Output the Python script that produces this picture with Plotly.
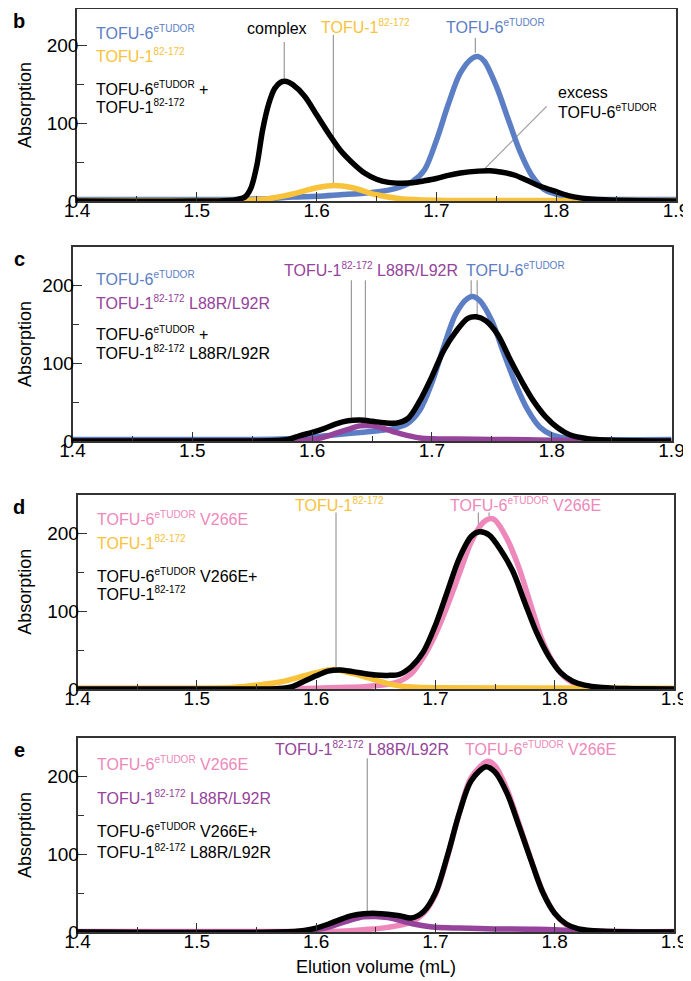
import plotly.graph_objects as go

W, H = 691, 981          # browser window
OFF = 8                  # page body margin of the written html
FW, FH = W - OFF, H - OFF  # figure size so that it ends at the window edge
FONT = "Liberation Sans, Arial, Helvetica, sans-serif"

BLUE = "#5B7EC5"
YELLOW = "#F8C23A"
PURPLE = "#95439B"
PINK = "#EE88BA"
BLACK = "#000000"
GRAY = "#9a9a9a"
AXC = "#333333"

# ---------------- data (elution volume in mL, absorption) ----------------
# panel b
B_BLUE_X = [1.40, 1.50, 1.53, 1.56, 1.58, 1.60, 1.62, 1.64, 1.66, 1.67, 1.68, 1.69, 1.70, 1.71, 1.72,
            1.73, 1.735, 1.74, 1.75, 1.76, 1.77, 1.78, 1.79, 1.80, 1.81, 1.82, 1.84, 1.90]
B_BLUE_Y = [2, 2, 2, 3, 5, 6, 8, 10, 14, 18, 25, 40, 78, 125, 165,
            184, 186, 180, 148, 105, 63, 32, 15, 9, 5, 3, 2, 2]
B_YEL_X = [1.40, 1.50, 1.54, 1.56, 1.58, 1.60, 1.615, 1.63, 1.65, 1.67, 1.70, 1.80, 1.90]
B_YEL_Y = [0.5, 0.5, 1, 3, 9, 17, 20, 17, 8, 3, 1, 0.5, 0.5]
B_BLK_X = [1.40, 1.50, 1.53, 1.54, 1.545, 1.55, 1.555, 1.56, 1.565, 1.57, 1.575, 1.58, 1.59, 1.60,
           1.61, 1.62, 1.63, 1.64, 1.65, 1.66, 1.67, 1.68, 1.69, 1.70, 1.71, 1.72, 1.735, 1.745,
           1.755, 1.765, 1.775, 1.785, 1.80, 1.81, 1.82, 1.84, 1.86, 1.90]
B_BLK_Y = [0, 0, 1, 5, 16, 45, 92, 125, 145, 153, 154, 150, 135, 111,
           87, 65, 49, 36, 28, 24, 23, 23.5, 26, 29, 33, 36, 38.5, 39,
           37, 33.5, 27, 20, 12, 7, 4, 1.5, 0.5, 0]

# panel c
C_BLUE_X = [1.40, 1.55, 1.58, 1.60, 1.62, 1.64, 1.66, 1.67, 1.68, 1.69, 1.70, 1.71, 1.72, 1.73,
            1.735, 1.74, 1.75, 1.76, 1.77, 1.78, 1.79, 1.80, 1.81, 1.83, 1.90]
C_BLUE_Y = [2, 2, 3, 5, 8, 11, 14, 17, 23, 40, 75, 122, 164, 184,
            186, 181, 155, 113, 73, 40, 18, 8, 4, 2, 2]
C_PUR_X = [1.40, 1.55, 1.58, 1.60, 1.61, 1.62, 1.63, 1.64, 1.65, 1.66, 1.67, 1.68, 1.69, 1.70,
           1.72, 1.75, 1.78, 1.80, 1.82, 1.90]
C_PUR_Y = [0, 0, 0.5, 2, 5, 10, 15, 19.5, 19.5, 16, 11, 7, 4, 3,
           2.5, 2, 1.5, 1, 0.5, 0]
C_BLK_X = [1.40, 1.55, 1.57, 1.58, 1.59, 1.60, 1.61, 1.62, 1.63, 1.64, 1.65, 1.66, 1.67, 1.68,
           1.69, 1.70, 1.71, 1.72, 1.73, 1.737, 1.745, 1.755, 1.765, 1.775, 1.785, 1.795, 1.805,
           1.815, 1.83, 1.85, 1.90]
C_BLK_Y = [0, 0, 0.5, 2, 7, 11, 16, 22, 26, 27, 25.5, 23.5, 23, 29,
           52, 83, 117, 141, 158, 160, 155, 137, 106, 77, 51, 31, 17,
           8, 3, 1, 0]

# panel d
D_PINK_X = [1.40, 1.58, 1.60, 1.62, 1.64, 1.66, 1.67, 1.68, 1.69, 1.70, 1.71, 1.72, 1.73, 1.74,
            1.746, 1.75, 1.76, 1.77, 1.78, 1.79, 1.80, 1.81, 1.82, 1.83, 1.85, 1.90]
D_PINK_Y = [0.5, 0.5, 1, 2, 3, 6, 10, 20, 41, 70, 107, 148, 189, 214,
            219, 217, 193, 156, 108, 61, 31, 13, 5, 2, 0.5, 0]
D_YEL_X = [1.40, 1.50, 1.53, 1.55, 1.57, 1.59, 1.60, 1.615, 1.63, 1.64, 1.65, 1.66, 1.67, 1.68,
           1.70, 1.90]
D_YEL_Y = [1, 1, 2, 5, 9, 17, 21, 25, 20, 16, 11.5, 7, 4, 2.5, 1.5, 1]
D_BLK_X = [1.40, 1.56, 1.57, 1.58, 1.59, 1.60, 1.61, 1.62, 1.63, 1.64, 1.65, 1.66, 1.67, 1.68,
           1.69, 1.70, 1.71, 1.72, 1.73, 1.737, 1.745, 1.755, 1.765, 1.775, 1.785, 1.795, 1.805,
           1.815, 1.825, 1.84, 1.86, 1.90]
D_BLK_Y = [0, 0, 0.5, 3, 10, 17, 23, 24.5, 22.5, 20, 18, 17.5, 19, 29,
           48, 82, 125, 168, 196, 202, 198, 178, 151, 111, 72, 42, 21,
           10, 5, 2, 0.5, 0]

# panel e
E_PINK_X = [1.40, 1.60, 1.62, 1.64, 1.66, 1.68, 1.69, 1.70, 1.71, 1.72, 1.73, 1.744, 1.75, 1.76,
            1.77, 1.78, 1.79, 1.80, 1.81, 1.82, 1.84, 1.90]
E_PINK_Y = [0.5, 0.5, 1, 3, 6, 13, 24, 48, 96, 153, 199, 220, 214, 184,
            140, 94, 52, 24, 9, 3, 1, 0.5]
E_PUR_X = [1.40, 1.57, 1.59, 1.60, 1.61, 1.62, 1.63, 1.64, 1.65, 1.66, 1.67, 1.68, 1.69, 1.70,
           1.72, 1.75, 1.78, 1.80, 1.82, 1.85, 1.90]
E_PUR_Y = [0, 0, 1, 3, 6, 11, 16, 19.5, 20, 18.5, 15, 11, 8, 6,
           5, 4, 3.5, 3, 1.5, 0.5, 0]
E_BLK_X = [1.40, 1.57, 1.59, 1.60, 1.61, 1.62, 1.63, 1.64, 1.65, 1.66, 1.67, 1.68, 1.69, 1.70,
           1.71, 1.72, 1.73, 1.7425, 1.75, 1.76, 1.77, 1.78, 1.79, 1.80, 1.81, 1.82, 1.84, 1.90]
E_BLK_Y = [0, 0, 2, 5, 10, 16, 21, 23.5, 24, 23, 21, 18, 26, 50,
           98, 153, 195, 213, 206, 179, 137, 93, 51, 24, 10, 4, 1, 0]

X_TICKS = [1.4, 1.5, 1.6, 1.7, 1.8, 1.9]
X_TICK_LABELS = ["1.4", "1.5", "1.6", "1.7", "1.8", "1.9"]
X_MINOR = [1.45, 1.55, 1.65, 1.75, 1.85]
Y_TICKS = [0, 100, 200]
Y_TICK_LABELS = ["0", "100", "200"]
Y_MINOR = [50, 150]

T6 = "TOFU-6<sup><span style='font-size:10px'>eTUDOR</span></sup>"
T1 = "TOFU-1<sup><span style='font-size:10px'>82-172</span></sup>"

# ---------------- layout helpers (window pixels -> paper fractions) ----------------
def px(x):
    return min(1.0, max(0.0, (x - OFF) / FW))

def py(y):
    return min(1.0, max(0.0, 1 - (y - OFF) / FH))

# panel geometry in window pixels: (left, right, top, bottom)
PANELS = [
    dict(letter="b", box=(77, 676, 9, 201),
         series=[(B_BLUE_X, B_BLUE_Y, BLUE), (B_YEL_X, B_YEL_Y, YELLOW), (B_BLK_X, B_BLK_Y, BLACK)]),
    dict(letter="c", box=(72.5, 671.5, 247, 441),
         series=[(C_BLUE_X, C_BLUE_Y, BLUE), (C_PUR_X, C_PUR_Y, PURPLE), (C_BLK_X, C_BLK_Y, BLACK)]),
    dict(letter="d", box=(77.5, 674, 494.5, 689),
         series=[(D_PINK_X, D_PINK_Y, PINK), (D_YEL_X, D_YEL_Y, YELLOW), (D_BLK_X, D_BLK_Y, BLACK)]),
    dict(letter="e", box=(77.5, 674, 738, 932),
         series=[(E_PINK_X, E_PINK_Y, PINK), (E_PUR_X, E_PUR_Y, PURPLE), (E_BLK_X, E_BLK_Y, BLACK)]),
]
Y_TOP = [250 * (201 - 7) / 194, 250, 250, 250]  # panel b keeps its 0..250 scale under a clipped top

fig = go.Figure()
layout = dict(
    template="none",
    width=FW, height=FH, autosize=False,
    margin=dict(l=0, r=0, t=0, b=0, pad=0),
    paper_bgcolor="white", plot_bgcolor="rgba(0,0,0,0)",
    showlegend=False,
    font=dict(family=FONT, color="black"),
)
annotations = []
shapes = []

for i, p in enumerate(PANELS):
    n = "" if i == 0 else str(i + 1)
    l, r, t, b = p["box"]
    ytop = 250 if i else 250 * (b - t) / 194
    for xs, ys, col in p["series"]:
        fig.add_trace(go.Scatter(
            x=xs, y=ys, mode="lines", xaxis="x" + n, yaxis="y" + n,
            line=dict(color=col, width=5.5, shape="spline", smoothing=0.9),
            hoverinfo="skip"))
    layout["xaxis" + n] = dict(
        domain=[px(l), px(r)], range=[1.4, 1.9], anchor="y" + n, automargin=False,
        tickmode="array", tickvals=X_TICKS, ticktext=X_TICK_LABELS,
        ticks="inside", ticklen=9, tickwidth=1.3, tickcolor=AXC, ticklabelstandoff=-9,
        minor=dict(tickmode="array", tickvals=X_MINOR, ticks="inside", ticklen=5,
                   tickwidth=1.3, tickcolor=AXC, showgrid=False),
        showline=True, linecolor=AXC, linewidth=1.5, mirror=True,
        showgrid=False, zeroline=False,
        tickfont=dict(family=FONT, size=19, color="black"),
    )
    layout["yaxis" + n] = dict(
        domain=[py(b), py(t)], range=[0, ytop], anchor="x" + n, automargin=False,
        tickmode="array", tickvals=Y_TICKS, ticktext=Y_TICK_LABELS,
        ticks="inside", ticklen=10, tickwidth=1.3, tickcolor=AXC, ticklabelstandoff=-7,
        minor=dict(tickmode="array", tickvals=Y_MINOR, ticks="inside", ticklen=7,
                   tickwidth=1.3, tickcolor=AXC, showgrid=False),
        showline=True, linecolor=AXC, linewidth=1.5, mirror=True,
        showgrid=False, zeroline=False,
        tickfont=dict(family=FONT, size=19, color="black"),
    )
    # panel letter
    annotations.append(dict(x=px(19), y=py(max(t, 7) + 12), xref="paper", yref="paper",
                            text="<b>%s</b>" % p["letter"], showarrow=False,
                            font=dict(size=20, family=FONT, color="black"),
                            xanchor="center", yanchor="middle"))
    # y title
    annotations.append(dict(x=px(25), y=py((t + b) / 2), xref="paper", yref="paper",
                            text="Absorption", showarrow=False, textangle=-90,
                            font=dict(size=18, family=FONT, color="black"),
                            xanchor="center", yanchor="middle"))


def txt(x, y, s, col, anchor="left", size=16):
    annotations.append(dict(x=px(x), y=py(y), xref="paper", yref="paper", text=s,
                            showarrow=False, xanchor=anchor, yanchor="middle",
                            font=dict(size=size, family=FONT, color=col)))


def seg(n, x0, y0, x1, y1):
    shapes.append(dict(type="line", xref="x" + n, yref="y" + n, x0=x0, y0=y0, x1=x1, y1=y1,
                       line=dict(color=GRAY, width=1.2), layer="below"))


# ---- panel b texts ----
txt(94, 33, T6, BLUE)
txt(94, 56, T1, YELLOW)
txt(94, 89, T6 + " +", BLACK)
txt(94, 106, T1, BLACK)
txt(277, 28, "complex", BLACK, "center")
txt(365, 27, T1, YELLOW, "center")
txt(495, 27, T6, BLUE, "center")
txt(556, 92, "excess", BLACK)
txt(556, 112, T6, BLACK)
seg("", 1.573, 205, 1.573, 158)
seg("", 1.614, 214, 1.614, 23)
seg("", 1.7325, 210, 1.7325, 191)
seg("", 1.792, 122, 1.7406, 42)

# ---- panel c texts ----
txt(94, 278, T6, BLUE)
txt(94, 303, T1 + " L88R/L92R", PURPLE)
txt(94, 333, T6 + " +", BLACK)
txt(94, 352, T1 + " L88R/L92R", BLACK)
txt(371, 269, T1 + " L88R/L92R", PURPLE, "center")
txt(515, 269, T6, BLUE, "center")
seg("2", 1.6328, 207, 1.6328, 30)
seg("2", 1.6445, 207, 1.6445, 22)
seg("2", 1.7328, 207, 1.7328, 188)
seg("2", 1.7378, 207, 1.7378, 163)

# ---- panel d texts ----
txt(95, 518, T6 + " V266E", PINK)
txt(95, 542, T1, YELLOW)
txt(95, 575, T6 + " V266E+", BLACK)
txt(95, 593, T1, BLACK)
txt(339, 504, T1, YELLOW, "center")
txt(525, 504, T6 + " V266E", PINK, "center")
seg("3", 1.6167, 227, 1.6167, 27)
seg("3", 1.736, 227, 1.736, 205)
seg("3", 1.745, 227, 1.745, 222)

# ---- panel e texts ----
txt(95, 763, T6 + " V266E", PINK)
txt(95, 797, T1 + " L88R/L92R", PURPLE)
txt(95, 830, T6 + " V266E+", BLACK)
txt(95, 851, T1 + " L88R/L92R", BLACK)
txt(362, 748, T1 + " L88R/L92R", PURPLE, "center")
txt(540, 748, T6 + " V266E", PINK, "center")
seg("4", 1.6429, 224, 1.6429, 24)

# x title
txt(376, 967, "Elution volume (mL)", BLACK, "center", 18)

layout["annotations"] = annotations
layout["shapes"] = shapes
fig.update_layout(**layout)
fig.write_html("out.html")
